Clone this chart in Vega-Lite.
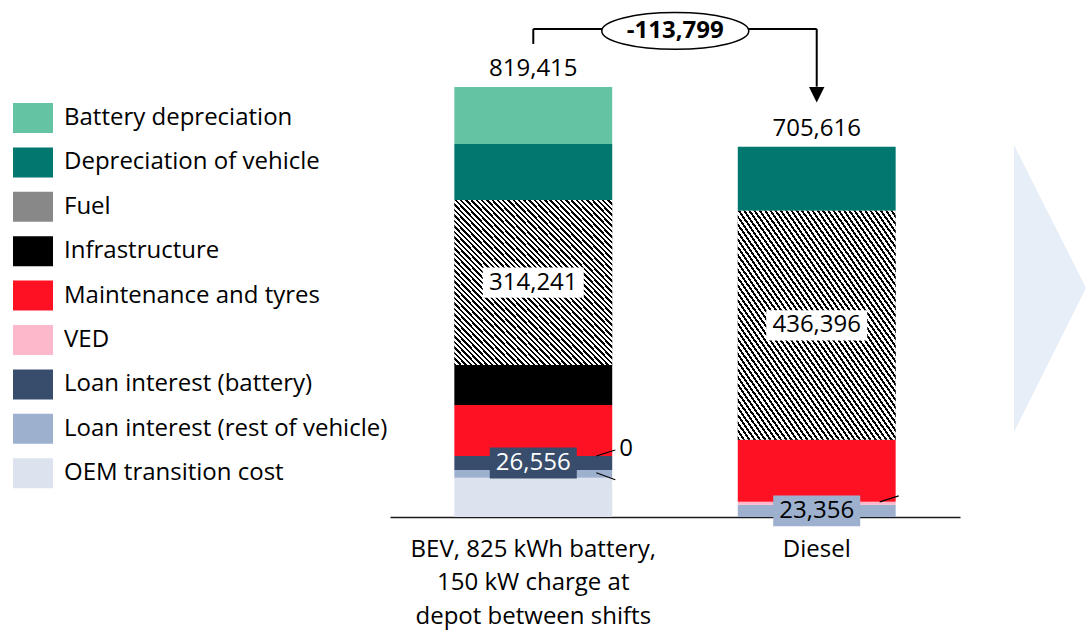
{
  "$schema": "https://vega.github.io/schema/vega-lite/v6.json",
  "padding": {"left": 13, "top": 0, "right": 0, "bottom": 10},
  "background": "white",
  "config": {"view": {"stroke": null}, "font": "Open Sans", "concat": {"spacing": 54}},
  "datasets": {
    "costs": [
      {"vehicle": "BEV, 825 kWh battery, 150 kW charge at depot between shifts", "cost": "OEM transition cost", "k": 1, "value": 74900},
      {"vehicle": "BEV, 825 kWh battery, 150 kW charge at depot between shifts", "cost": "Loan interest (rest of vehicle)", "k": 2, "value": 14700},
      {"vehicle": "BEV, 825 kWh battery, 150 kW charge at depot between shifts", "cost": "Loan interest (battery)", "k": 3, "value": 26556},
      {"vehicle": "BEV, 825 kWh battery, 150 kW charge at depot between shifts", "cost": "VED", "k": 4, "value": 0},
      {"vehicle": "BEV, 825 kWh battery, 150 kW charge at depot between shifts", "cost": "Maintenance and tyres", "k": 5, "value": 97200},
      {"vehicle": "BEV, 825 kWh battery, 150 kW charge at depot between shifts", "cost": "Infrastructure", "k": 6, "value": 76200},
      {"vehicle": "BEV, 825 kWh battery, 150 kW charge at depot between shifts", "cost": "Fuel", "k": 7, "value": 314241},
      {"vehicle": "BEV, 825 kWh battery, 150 kW charge at depot between shifts", "cost": "Depreciation of vehicle", "k": 8, "value": 106700},
      {"vehicle": "BEV, 825 kWh battery, 150 kW charge at depot between shifts", "cost": "Battery depreciation", "k": 9, "value": 108918},
      {"vehicle": "Diesel", "cost": "Loan interest (rest of vehicle)", "k": 2, "value": 23356},
      {"vehicle": "Diesel", "cost": "VED", "k": 4, "value": 5500},
      {"vehicle": "Diesel", "cost": "Maintenance and tyres", "k": 5, "value": 118100},
      {"vehicle": "Diesel", "cost": "Fuel", "k": 7, "value": 436396},
      {"vehicle": "Diesel", "cost": "Depreciation of vehicle", "k": 8, "value": 122264}
    ],
    "annot": [
      {"from": "BEV, 825 kWh battery, 150 kW charge at depot between shifts", "to": "Diesel", "fromTotal": 819415, "toTotal": 705616, "diff": "-113,799"}
    ],
    "leadersUp": [
      {"vehicle": "BEV, 825 kWh battery, 150 kW charge at depot between shifts", "at": 116156, "label": "0"},
      {"vehicle": "Diesel", "at": 28856, "label": ""}
    ],
    "leadersDown": [
      {"vehicle": "BEV, 825 kWh battery, 150 kW charge at depot between shifts", "at": 84400}
    ],
    "chevron": [
      {"x": 0, "lo": 0.1644, "hi": 0.7195},
      {"x": 1, "lo": 0.4429, "hi": 0.4429}
    ]
  },
  "hconcat": [
    {
      "width": 570,
      "height": 517,
      "layer": [
        {
          "data": {"name": "costs"},
          "mark": {"type": "bar"},
          "encoding": {
            "x": {
              "field": "vehicle", "type": "nominal", "title": null,
              "scale": {"paddingInner": 0.443, "paddingOuter": 0.227},
              "axis": {
                "title": null, "labelAngle": 0, "labelFontSize": 24, "labelColor": "#000", "labelFont": "Open Sans",
                "labelLineHeight": 33.5, "labelPadding": 20, "ticks": false, "domainColor": "#1a1a1a", "domainWidth": 1.5,
                "labelLimit": 400, "grid": false,
                "labelExpr": "datum.value == 'Diesel' ? 'Diesel' : ['BEV, 825 kWh battery,', '150 kW charge at', 'depot between shifts']"
              }
            },
            "y": {"field": "value", "type": "quantitative", "stack": "zero", "scale": {"domain": [0, 985000], "nice": false}, "axis": null},
            "color": {
              "field": "cost", "type": "nominal",
              "scale": {
                "domain": ["Battery depreciation", "Depreciation of vehicle", "Fuel", "Infrastructure", "Maintenance and tyres", "VED", "Loan interest (battery)", "Loan interest (rest of vehicle)", "OEM transition cost"],
                "range": ["#63C3A3", "#00776F", "#888888", "#000000", "#FF1124", "#FDB8CB", "#384C6C", "#9DB0CE", "#DCE3EE"]
              },
              "legend": {
                "orient": "none", "legendX": -377, "legendY": 98, "title": null,
                "symbolType": "M-1,-0.75H1V0.75H-1Z", "symbolSize": 1600, "symbolStrokeWidth": 0,
                "labelFontSize": 24, "labelFont": "Open Sans", "labelColor": "#000", "labelOffset": 11, "rowPadding": 9.4, "labelLimit": 600
              }
            },
            "order": {"field": "k", "type": "quantitative", "sort": "ascending"}
          }
        },
        {
          "data": {"name": "costs"},
          "transform": [
            {"stack": "value", "groupby": ["vehicle"], "sort": [{"field": "k", "order": "ascending"}], "as": ["v0", "v1"]},
            {"filter": "datum.cost == 'Fuel'"}
          ],
          "mark": {"type": "bar", "color": {"gradient": "linear", "x1": 0, "y1": 1, "x2": 1, "y2": 0, "stops": [
{"offset":0,"color":"#000"},{"offset":0.0075,"color":"#000"},{"offset":0.0075,"color":"#fff"},{"offset":0.01667,"color":"#fff"},
{"offset":0.01667,"color":"#000"},{"offset":0.02417,"color":"#000"},{"offset":0.02417,"color":"#fff"},{"offset":0.03333,"color":"#fff"},
{"offset":0.03333,"color":"#000"},{"offset":0.04083,"color":"#000"},{"offset":0.04083,"color":"#fff"},{"offset":0.05,"color":"#fff"},
{"offset":0.05,"color":"#000"},{"offset":0.0575,"color":"#000"},{"offset":0.0575,"color":"#fff"},{"offset":0.06667,"color":"#fff"},
{"offset":0.06667,"color":"#000"},{"offset":0.07417,"color":"#000"},{"offset":0.07417,"color":"#fff"},{"offset":0.08333,"color":"#fff"},
{"offset":0.08333,"color":"#000"},{"offset":0.09083,"color":"#000"},{"offset":0.09083,"color":"#fff"},{"offset":0.1,"color":"#fff"},
{"offset":0.1,"color":"#000"},{"offset":0.1075,"color":"#000"},{"offset":0.1075,"color":"#fff"},{"offset":0.11667,"color":"#fff"},
{"offset":0.11667,"color":"#000"},{"offset":0.12417,"color":"#000"},{"offset":0.12417,"color":"#fff"},{"offset":0.13333,"color":"#fff"},
{"offset":0.13333,"color":"#000"},{"offset":0.14083,"color":"#000"},{"offset":0.14083,"color":"#fff"},{"offset":0.15,"color":"#fff"},
{"offset":0.15,"color":"#000"},{"offset":0.1575,"color":"#000"},{"offset":0.1575,"color":"#fff"},{"offset":0.16667,"color":"#fff"},
{"offset":0.16667,"color":"#000"},{"offset":0.17417,"color":"#000"},{"offset":0.17417,"color":"#fff"},{"offset":0.18333,"color":"#fff"},
{"offset":0.18333,"color":"#000"},{"offset":0.19083,"color":"#000"},{"offset":0.19083,"color":"#fff"},{"offset":0.2,"color":"#fff"},
{"offset":0.2,"color":"#000"},{"offset":0.2075,"color":"#000"},{"offset":0.2075,"color":"#fff"},{"offset":0.21667,"color":"#fff"},
{"offset":0.21667,"color":"#000"},{"offset":0.22417,"color":"#000"},{"offset":0.22417,"color":"#fff"},{"offset":0.23333,"color":"#fff"},
{"offset":0.23333,"color":"#000"},{"offset":0.24083,"color":"#000"},{"offset":0.24083,"color":"#fff"},{"offset":0.25,"color":"#fff"},
{"offset":0.25,"color":"#000"},{"offset":0.2575,"color":"#000"},{"offset":0.2575,"color":"#fff"},{"offset":0.26667,"color":"#fff"},
{"offset":0.26667,"color":"#000"},{"offset":0.27417,"color":"#000"},{"offset":0.27417,"color":"#fff"},{"offset":0.28333,"color":"#fff"},
{"offset":0.28333,"color":"#000"},{"offset":0.29083,"color":"#000"},{"offset":0.29083,"color":"#fff"},{"offset":0.3,"color":"#fff"},
{"offset":0.3,"color":"#000"},{"offset":0.3075,"color":"#000"},{"offset":0.3075,"color":"#fff"},{"offset":0.31667,"color":"#fff"},
{"offset":0.31667,"color":"#000"},{"offset":0.32417,"color":"#000"},{"offset":0.32417,"color":"#fff"},{"offset":0.33333,"color":"#fff"},
{"offset":0.33333,"color":"#000"},{"offset":0.34083,"color":"#000"},{"offset":0.34083,"color":"#fff"},{"offset":0.35,"color":"#fff"},
{"offset":0.35,"color":"#000"},{"offset":0.3575,"color":"#000"},{"offset":0.3575,"color":"#fff"},{"offset":0.36667,"color":"#fff"},
{"offset":0.36667,"color":"#000"},{"offset":0.37417,"color":"#000"},{"offset":0.37417,"color":"#fff"},{"offset":0.38333,"color":"#fff"},
{"offset":0.38333,"color":"#000"},{"offset":0.39083,"color":"#000"},{"offset":0.39083,"color":"#fff"},{"offset":0.4,"color":"#fff"},
{"offset":0.4,"color":"#000"},{"offset":0.4075,"color":"#000"},{"offset":0.4075,"color":"#fff"},{"offset":0.41667,"color":"#fff"},
{"offset":0.41667,"color":"#000"},{"offset":0.42417,"color":"#000"},{"offset":0.42417,"color":"#fff"},{"offset":0.43333,"color":"#fff"},
{"offset":0.43333,"color":"#000"},{"offset":0.44083,"color":"#000"},{"offset":0.44083,"color":"#fff"},{"offset":0.45,"color":"#fff"},
{"offset":0.45,"color":"#000"},{"offset":0.4575,"color":"#000"},{"offset":0.4575,"color":"#fff"},{"offset":0.46667,"color":"#fff"},
{"offset":0.46667,"color":"#000"},{"offset":0.47417,"color":"#000"},{"offset":0.47417,"color":"#fff"},{"offset":0.48333,"color":"#fff"},
{"offset":0.48333,"color":"#000"},{"offset":0.49083,"color":"#000"},{"offset":0.49083,"color":"#fff"},{"offset":0.5,"color":"#fff"},
{"offset":0.5,"color":"#000"},{"offset":0.5075,"color":"#000"},{"offset":0.5075,"color":"#fff"},{"offset":0.51667,"color":"#fff"},
{"offset":0.51667,"color":"#000"},{"offset":0.52417,"color":"#000"},{"offset":0.52417,"color":"#fff"},{"offset":0.53333,"color":"#fff"},
{"offset":0.53333,"color":"#000"},{"offset":0.54083,"color":"#000"},{"offset":0.54083,"color":"#fff"},{"offset":0.55,"color":"#fff"},
{"offset":0.55,"color":"#000"},{"offset":0.5575,"color":"#000"},{"offset":0.5575,"color":"#fff"},{"offset":0.56667,"color":"#fff"},
{"offset":0.56667,"color":"#000"},{"offset":0.57417,"color":"#000"},{"offset":0.57417,"color":"#fff"},{"offset":0.58333,"color":"#fff"},
{"offset":0.58333,"color":"#000"},{"offset":0.59083,"color":"#000"},{"offset":0.59083,"color":"#fff"},{"offset":0.6,"color":"#fff"},
{"offset":0.6,"color":"#000"},{"offset":0.6075,"color":"#000"},{"offset":0.6075,"color":"#fff"},{"offset":0.61667,"color":"#fff"},
{"offset":0.61667,"color":"#000"},{"offset":0.62417,"color":"#000"},{"offset":0.62417,"color":"#fff"},{"offset":0.63333,"color":"#fff"},
{"offset":0.63333,"color":"#000"},{"offset":0.64083,"color":"#000"},{"offset":0.64083,"color":"#fff"},{"offset":0.65,"color":"#fff"},
{"offset":0.65,"color":"#000"},{"offset":0.6575,"color":"#000"},{"offset":0.6575,"color":"#fff"},{"offset":0.66667,"color":"#fff"},
{"offset":0.66667,"color":"#000"},{"offset":0.67417,"color":"#000"},{"offset":0.67417,"color":"#fff"},{"offset":0.68333,"color":"#fff"},
{"offset":0.68333,"color":"#000"},{"offset":0.69083,"color":"#000"},{"offset":0.69083,"color":"#fff"},{"offset":0.7,"color":"#fff"},
{"offset":0.7,"color":"#000"},{"offset":0.7075,"color":"#000"},{"offset":0.7075,"color":"#fff"},{"offset":0.71667,"color":"#fff"},
{"offset":0.71667,"color":"#000"},{"offset":0.72417,"color":"#000"},{"offset":0.72417,"color":"#fff"},{"offset":0.73333,"color":"#fff"},
{"offset":0.73333,"color":"#000"},{"offset":0.74083,"color":"#000"},{"offset":0.74083,"color":"#fff"},{"offset":0.75,"color":"#fff"},
{"offset":0.75,"color":"#000"},{"offset":0.7575,"color":"#000"},{"offset":0.7575,"color":"#fff"},{"offset":0.76667,"color":"#fff"},
{"offset":0.76667,"color":"#000"},{"offset":0.77417,"color":"#000"},{"offset":0.77417,"color":"#fff"},{"offset":0.78333,"color":"#fff"},
{"offset":0.78333,"color":"#000"},{"offset":0.79083,"color":"#000"},{"offset":0.79083,"color":"#fff"},{"offset":0.8,"color":"#fff"},
{"offset":0.8,"color":"#000"},{"offset":0.8075,"color":"#000"},{"offset":0.8075,"color":"#fff"},{"offset":0.81667,"color":"#fff"},
{"offset":0.81667,"color":"#000"},{"offset":0.82417,"color":"#000"},{"offset":0.82417,"color":"#fff"},{"offset":0.83333,"color":"#fff"},
{"offset":0.83333,"color":"#000"},{"offset":0.84083,"color":"#000"},{"offset":0.84083,"color":"#fff"},{"offset":0.85,"color":"#fff"},
{"offset":0.85,"color":"#000"},{"offset":0.8575,"color":"#000"},{"offset":0.8575,"color":"#fff"},{"offset":0.86667,"color":"#fff"},
{"offset":0.86667,"color":"#000"},{"offset":0.87417,"color":"#000"},{"offset":0.87417,"color":"#fff"},{"offset":0.88333,"color":"#fff"},
{"offset":0.88333,"color":"#000"},{"offset":0.89083,"color":"#000"},{"offset":0.89083,"color":"#fff"},{"offset":0.9,"color":"#fff"},
{"offset":0.9,"color":"#000"},{"offset":0.9075,"color":"#000"},{"offset":0.9075,"color":"#fff"},{"offset":0.91667,"color":"#fff"},
{"offset":0.91667,"color":"#000"},{"offset":0.92417,"color":"#000"},{"offset":0.92417,"color":"#fff"},{"offset":0.93333,"color":"#fff"},
{"offset":0.93333,"color":"#000"},{"offset":0.94083,"color":"#000"},{"offset":0.94083,"color":"#fff"},{"offset":0.95,"color":"#fff"},
{"offset":0.95,"color":"#000"},{"offset":0.9575,"color":"#000"},{"offset":0.9575,"color":"#fff"},{"offset":0.96667,"color":"#fff"},
{"offset":0.96667,"color":"#000"},{"offset":0.97417,"color":"#000"},{"offset":0.97417,"color":"#fff"},{"offset":0.98333,"color":"#fff"},
{"offset":0.98333,"color":"#000"},{"offset":0.99083,"color":"#000"},{"offset":0.99083,"color":"#fff"},{"offset":1,"color":"#fff"}
          ]}},
          "encoding": {
            "x": {"field": "vehicle", "type": "nominal", "title": null},
            "y": {"field": "v1", "type": "quantitative"},
            "y2": {"field": "v0"}
          }
        },
        {
          "data": {"name": "costs"},
          "transform": [
            {"stack": "value", "groupby": ["vehicle"], "sort": [{"field": "k", "order": "ascending"}], "as": ["v0", "v1"]},
            {"filter": "datum.cost == 'Fuel' || datum.cost == 'Loan interest (battery)' || (datum.cost == 'Loan interest (rest of vehicle)' && datum.vehicle == 'Diesel')"},
            {"fold": ["v0", "v1"], "as": ["edge", "pos"]},
            {"aggregate": [{"op": "mean", "field": "pos", "as": "mid"}, {"op": "max", "field": "value", "as": "amount"}], "groupby": ["vehicle", "cost"]}
          ],
          "layer": [
            {
              "mark": {"type": "point", "filled": true, "opacity": 1, "strokeWidth": 0},
              "encoding": {
                "x": {"field": "vehicle", "type": "nominal", "title": null},
                "y": {"field": "mid", "type": "quantitative"},
                "shape": {"condition": {"test": "datum.cost == 'Fuel'", "value": "M-1,-0.3H1V0.3H-1Z"}, "value": "M-1,-0.356H1V0.356H-1Z"},
                "size": {"condition": {"test": "datum.cost == 'Fuel'", "value": 10200}, "value": 7569},
                "fill": {"condition": [{"test": "datum.cost == 'Fuel'", "value": "#ffffff"}, {"test": "datum.cost == 'Loan interest (battery)'", "value": "#384C6C"}], "value": "#9DB0CE"}
              }
            },
            {
              "mark": {"type": "text", "fontSize": 24, "baseline": "middle", "align": "center"},
              "encoding": {
                "x": {"field": "vehicle", "type": "nominal", "title": null},
                "y": {"field": "mid", "type": "quantitative"},
                "text": {"field": "amount", "type": "quantitative", "format": ","},
                "color": {"condition": {"test": "datum.cost == 'Loan interest (battery)'", "value": "#ffffff"}, "value": "#000000"}
              }
            }
          ]
        },
        {
          "data": {"name": "costs"},
          "mark": {"type": "text", "fontSize": 24, "baseline": "alphabetic", "align": "center", "dy": -11, "color": "#000"},
          "encoding": {
            "x": {"field": "vehicle", "type": "nominal", "title": null},
            "y": {"aggregate": "sum", "field": "value", "type": "quantitative"},
            "text": {"aggregate": "sum", "field": "value", "type": "quantitative", "format": ","}
          }
        },
        {
          "data": {"name": "annot"},
          "layer": [
            {
              "mark": {"type": "rule", "color": "#000", "strokeWidth": 2, "yOffset": -43, "y2Offset": -58},
              "encoding": {
                "x": {"field": "from", "type": "nominal", "title": null, "bandPosition": 0.5},
                "y": {"field": "fromTotal", "type": "quantitative"},
                "y2": {"field": "fromTotal"}
              }
            },
            {
              "mark": {"type": "rule", "color": "#000", "strokeWidth": 2, "yOffset": -58},
              "encoding": {
                "x": {"field": "from", "type": "nominal", "title": null, "bandPosition": 0.5},
                "x2": {"field": "to", "bandPosition": 0.5},
                "y": {"field": "fromTotal", "type": "quantitative"}
              }
            },
            {
              "mark": {"type": "rule", "color": "#000", "strokeWidth": 2, "yOffset": -58, "y2Offset": -60},
              "encoding": {
                "x": {"field": "to", "type": "nominal", "title": null, "bandPosition": 0.5},
                "y": {"field": "fromTotal", "type": "quantitative"},
                "y2": {"field": "toTotal"}
              }
            },
            {
              "mark": {"type": "point", "filled": true, "color": "#000", "opacity": 1, "shape": "M-1,-1L1,-1L0,1Z", "size": 240, "yOffset": -52},
              "encoding": {
                "x": {"field": "to", "type": "nominal", "title": null, "bandPosition": 0.5},
                "y": {"field": "toTotal", "type": "quantitative"}
              }
            },
            {
              "mark": {"type": "point", "filled": true, "fill": "#ffffff", "stroke": "#000", "strokeWidth": 1.5, "opacity": 1, "shape": "M-1,0A1,0.25,0,1,1,1,0A1,0.25,0,1,1,-1,0Z", "size": 21609, "xOffset": 142, "yOffset": -56},
              "encoding": {
                "x": {"field": "from", "type": "nominal", "title": null, "bandPosition": 0.5},
                "y": {"field": "fromTotal", "type": "quantitative"}
              }
            },
            {
              "mark": {"type": "text", "fontSize": 24, "fontWeight": "bold", "baseline": "middle", "align": "center", "color": "#000", "xOffset": 142, "yOffset": -56},
              "encoding": {
                "x": {"field": "from", "type": "nominal", "title": null, "bandPosition": 0.5},
                "y": {"field": "fromTotal", "type": "quantitative"},
                "text": {"field": "diff", "type": "nominal"}
              }
            }
          ]
        },
        {
          "data": {"name": "leadersUp"},
          "layer": [
            {
              "mark": {"type": "rule", "color": "#000", "strokeWidth": 1.2, "xOffset": 63, "x2Offset": 82, "y2Offset": -6},
              "encoding": {
                "x": {"field": "vehicle", "type": "nominal", "title": null, "bandPosition": 0.5},
                "x2": {"field": "vehicle", "bandPosition": 0.5},
                "y": {"field": "at", "type": "quantitative"},
                "y2": {"field": "at"}
              }
            },
            {
              "mark": {"type": "text", "fontSize": 24, "baseline": "middle", "align": "left", "color": "#000", "xOffset": 86, "yOffset": -7},
              "encoding": {
                "x": {"field": "vehicle", "type": "nominal", "title": null, "bandPosition": 0.5},
                "y": {"field": "at", "type": "quantitative"},
                "text": {"field": "label", "type": "nominal"}
              }
            }
          ]
        },
        {
          "data": {"name": "leadersDown"},
          "mark": {"type": "rule", "color": "#000", "strokeWidth": 1.2, "xOffset": 63, "x2Offset": 82, "y2Offset": 7},
          "encoding": {
            "x": {"field": "vehicle", "type": "nominal", "title": null, "bandPosition": 0.5},
            "x2": {"field": "vehicle", "bandPosition": 0.5},
            "y": {"field": "at", "type": "quantitative"},
            "y2": {"field": "at"}
          }
        }
      ]
    },
    {
      "width": 72,
      "height": 517,
      "data": {"name": "chevron"},
      "mark": {"type": "area", "color": "#E6EEF8", "opacity": 1},
      "encoding": {
        "x": {"field": "x", "type": "quantitative", "scale": {"domain": [0, 1], "nice": false}, "axis": null},
        "y": {"field": "lo", "type": "quantitative", "scale": {"domain": [0, 1], "nice": false}, "axis": null},
        "y2": {"field": "hi"}
      }
    }
  ]
}
